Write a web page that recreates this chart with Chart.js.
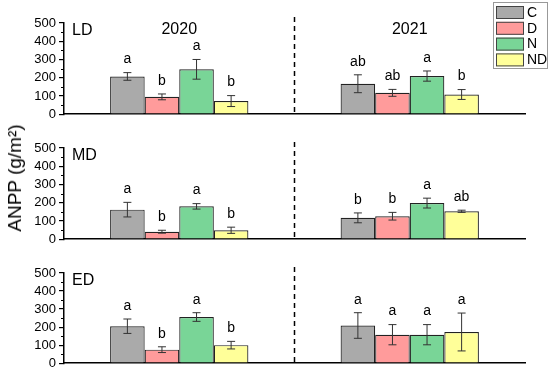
<!DOCTYPE html>
<html>
<head>
<meta charset="utf-8">
<script src="https://cdn.jsdelivr.net/npm/chart.js@4.4.1/dist/chart.umd.min.js"></script>
<style>
  body { margin: 0; background: #fff; }
  #wrap { position: relative; width: 550px; height: 374px; font-family: "Liberation Sans", Arial, sans-serif; }
  canvas { position: absolute; left: 0; }
  #ytitle {
    position: absolute; left: 15px; top: 178px;
    transform: translate(-50%, -50%) rotate(-90deg);
    font-size: 19px; white-space: nowrap; color: #000;
  }
</style>
</head>
<body>
<div id="wrap">
  <canvas id="p1" width="550" height="125" style="top:0"></canvas>
  <canvas id="p2" width="550" height="125" style="top:125px"></canvas>
  <canvas id="p3" width="550" height="124" style="top:250px"></canvas>
  <div id="ytitle">ANPP (g/m²)</div>
</div>
<script>
const years = ['2020', '2021'];
const treatments = ['C', 'D', 'N', 'ND'];
const colors = ['#aaaaaa', '#ff9b9b', '#79d597', '#ffff99'];
const yTicks = [0, 100, 200, 300, 400, 500];

// LD
const ld2020 = [207, 95, 246, 72];
const ld2021 = [167, 117, 209, 108];
const ldErr2020 = [21, 16, 54, 30];
const ldErr2021 = [49, 19, 28, 27];
const ldSig2020 = ['a', 'b', 'a', 'b'];
const ldSig2021 = ['ab', 'ab', 'a', 'b'];

// MD
const md2020 = [162, 41, 180, 49];
const md2021 = [117, 126, 198, 153];
const mdErr2020 = [40, 8, 15, 17];
const mdErr2021 = [27, 21, 27, 6];
const mdSig2020 = ['a', 'b', 'a', 'b'];
const mdSig2021 = ['b', 'b', 'a', 'ab'];

// ED
const ed2020 = [205, 75, 256, 100];
const ed2021 = [209, 158, 158, 173];
const edErr2020 = [40, 16, 24, 21];
const edErr2021 = [71, 56, 56, 105];
const edSig2020 = ['a', 'b', 'a', 'b'];
const edSig2021 = ['a', 'a', 'a', 'a'];

const FONT = '"Liberation Sans", Arial, sans-serif';

const panelDeco = {
    id: 'panelDeco',
    afterDatasetsDraw(chart, args, opts) {
        const ctx = chart.ctx;
        const area = chart.chartArea;
        const xs = chart.scales.x, ys = chart.scales.y;
        ctx.save();

        // error bars + letters
        chart.data.datasets.forEach((ds, i) => {
            const meta = chart.getDatasetMeta(i);
            meta.data.forEach((bar, j) => {
                const m = ds.data[j], e = ds.err[j];
                const yt = ys.getPixelForValue(m + e);
                const yb = ys.getPixelForValue(m - e);
                ctx.strokeStyle = '#333';
                ctx.lineWidth = 1;
                ctx.beginPath();
                ctx.moveTo(bar.x, yt); ctx.lineTo(bar.x, yb);
                ctx.moveTo(bar.x - 4, yt); ctx.lineTo(bar.x + 4, yt);
                ctx.moveTo(bar.x - 4, yb); ctx.lineTo(bar.x + 4, yb);
                ctx.stroke();
                ctx.fillStyle = '#000';
                ctx.font = '14px ' + FONT;
                ctx.textAlign = 'center';
                ctx.textBaseline = 'bottom';
                ctx.fillText(ds.sig[j], bar.x, yt - 6);
            });
        });

        // minor ticks
        ctx.strokeStyle = '#000';
        ctx.lineWidth = 1.2;
        ctx.beginPath();
        for (let v = 50; v < 500; v += 100) {
            const y = Math.round(ys.getPixelForValue(v)) + 0.5;
            ctx.moveTo(area.left - 3, y); ctx.lineTo(area.left, y);
        }
        ctx.stroke();

        // dashed divider
        const xm = (xs.getPixelForValue(0) + xs.getPixelForValue(1)) / 2;
        ctx.setLineDash([5, 4]);
        ctx.lineWidth = 1.5;
        ctx.beginPath();
        ctx.moveTo(xm, area.top - 6); ctx.lineTo(xm, area.bottom);
        ctx.stroke();
        ctx.setLineDash([]);

        // panel label
        ctx.fillStyle = '#000';
        ctx.font = '16px ' + FONT;
        ctx.textAlign = 'left';
        ctx.textBaseline = 'middle';
        ctx.fillText(opts.label, area.left + 8, area.top + 8);

        if (opts.years) {
            ctx.textAlign = 'center';
            years.forEach((yr, k) => ctx.fillText(yr, xs.getPixelForValue(k), area.top + 7));
        }

        if (opts.legend) {
            ctx.fillStyle = '#fff';
            ctx.strokeStyle = '#999';
            ctx.lineWidth = 1;
            ctx.fillRect(493.5, 2.5, 54, 66);
            ctx.strokeRect(493.5, 2.5, 54, 66);
            chart.data.datasets.forEach((ds, i) => {
                const y = 6 + i * 15.8;
                ctx.fillStyle = ds.backgroundColor;
                ctx.fillRect(496, y, 28, 13);
                ctx.strokeStyle = '#444';
                ctx.strokeRect(496.5, y + 0.5, 27, 12);
                ctx.fillStyle = '#000';
                ctx.font = '14px ' + FONT;
                ctx.textAlign = 'left';
                ctx.textBaseline = 'middle';
                ctx.fillText(ds.label, 527, y + 7);
            });
        }
        ctx.restore();
    }
};

function makePanel(id, v2020, v2021, e2020, e2021, s2020, s2021, label, showYears, showLegend) {
    const datasets = treatments.map((t, i) => ({
        label: t,
        data: [v2020[i], v2021[i]],
        err: [e2020[i], e2021[i]],
        sig: [s2020[i], s2021[i]],
        backgroundColor: colors[i],
        borderColor: '#222',
        borderWidth: 1.2,
        barPercentage: 1,
        categoryPercentage: 0.6
    }));
    return new Chart(document.getElementById(id), {
        type: 'bar',
        data: { labels: years, datasets },
        options: {
            responsive: false,
            animation: false,
            layout: { padding: { top: 23, right: 25, bottom: 9, left: 0 } },
            plugins: {
                legend: { display: false },
                tooltip: { enabled: false },
                panelDeco: { label: label, years: showYears, legend: showLegend }
            },
            scales: {
                x: {
                    ticks: { display: false },
                    grid: { display: false, drawTicks: false },
                    border: { display: true, color: '#000', width: 1.5 },
                    afterFit: s => { s.height = 0; }
                },
                y: {
                    min: 0, max: 500,
                    afterBuildTicks: s => { s.ticks = yTicks.map(v => ({ value: v })); },
                    ticks: { color: '#000', font: { size: 13, family: FONT }, padding: 3, autoSkip: false },
                    grid: { drawOnChartArea: false, drawTicks: true, tickLength: 5, color: '#000', lineWidth: 1.2 },
                    border: { display: true, color: '#000', width: 1.5 },
                    afterFit: s => { s.width = 64; }
                }
            }
        },
        plugins: [panelDeco]
    });
}

makePanel('p1', ld2020, ld2021, ldErr2020, ldErr2021, ldSig2020, ldSig2021, 'LD', true, true);
makePanel('p2', md2020, md2021, mdErr2020, mdErr2021, mdSig2020, mdSig2021, 'MD', false, false);
makePanel('p3', ed2020, ed2021, edErr2020, edErr2021, edSig2020, edSig2021, 'ED', false, false);
</script>
</body>
</html>
